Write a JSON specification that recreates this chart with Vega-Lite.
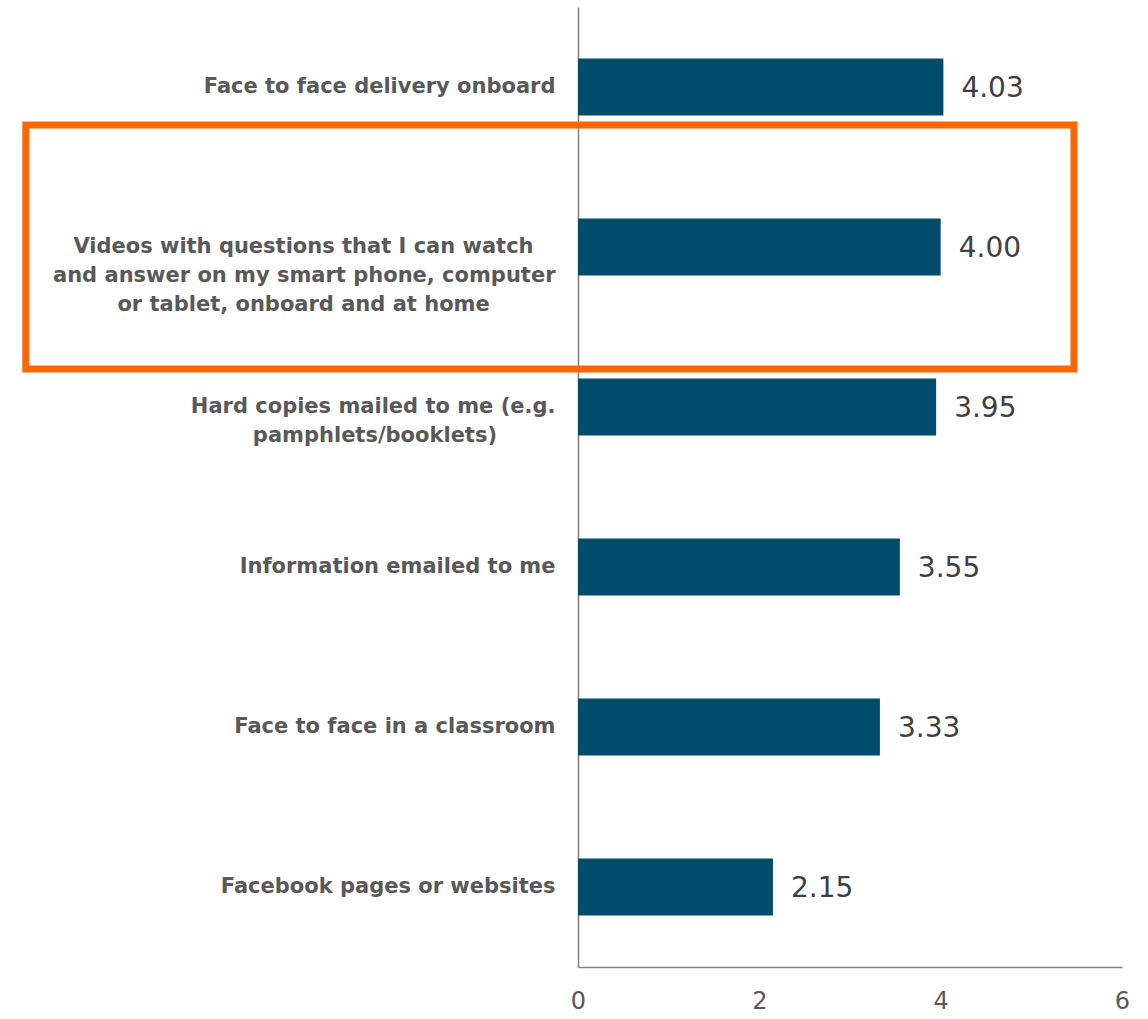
{
  "$schema": "https://vega.github.io/schema/vega-lite/v6.json",
  "width": 544,
  "height": 960,
  "autosize": {"type": "none"},
  "padding": {"left": 578, "top": 7, "right": 26, "bottom": 52},
  "background": "white",
  "config": {"view": {"stroke": null}},
  "datasets": {
    "bars": [
      {"label": "Face to face delivery onboard", "value": 4.03},
      {"label": "Videos with questions that I can watch and answer on my smart phone, computer or tablet, onboard and at home", "value": 4.00},
      {"label": "Hard copies mailed to me (e.g. pamphlets/booklets)", "value": 3.95},
      {"label": "Information emailed to me", "value": 3.55},
      {"label": "Face to face in a classroom", "value": 3.33},
      {"label": "Facebook pages or websites", "value": 2.15}
    ],
    "highlight": [
      {"label": "Videos with questions that I can watch and answer on my smart phone, computer or tablet, onboard and at home", "x1": -6.09, "x2": 5.47}
    ]
  },
  "encoding": {
    "y": {
      "field": "label",
      "type": "nominal",
      "sort": null,
      "scale": {"paddingInner": 0.644, "paddingOuter": 0.322},
      "axis": {
        "title": null,
        "ticks": false,
        "domainColor": "#808080",
        "domainWidth": 1.5,
        "labelPadding": 23,
        "labelFont": "DejaVu Sans",
        "labelFontWeight": "bold",
        "labelFontSize": 21,
        "labelColor": "#595959",
        "labelLimit": 600,
        "labelLineHeight": 29,
        "labelExpr": "indexof(datum.label, 'Videos') == 0 ? ['Videos with questions that I can watch\u00a0\u00a0\u00a0\u200b', 'and answer on my smart phone, computer', 'or tablet, onboard and at home\u00a0\u00a0\u00a0\u00a0\u00a0\u00a0\u00a0\u00a0\u00a0\u200b'] : indexof(datum.label, 'Hard copies') == 0 ? ['Hard copies mailed to me (e.g.', 'pamphlets/booklets)\u00a0\u00a0\u00a0\u00a0\u00a0\u00a0\u00a0\u00a0\u200b'] : datum.label"
      }
    }
  },
  "layer": [
    {
      "data": {"name": "bars"},
      "mark": {"type": "bar", "color": "#024C6B"},
      "encoding": {
        "x": {
          "field": "value",
          "type": "quantitative",
          "scale": {"domain": [0, 6], "nice": false},
          "axis": {
            "title": null,
            "ticks": false,
            "grid": false,
            "values": [0, 2, 4, 6],
            "format": "d",
            "domainColor": "#808080",
            "domainWidth": 1.5,
            "labelPadding": 22,
            "labelFont": "DejaVu Sans",
            "labelFontSize": 24,
            "labelColor": "#595959",
            "labelFlush": false
          }
        }
      }
    },
    {
      "data": {"name": "bars"},
      "mark": {"type": "text", "align": "left", "baseline": "middle", "dx": 18, "dy": 2, "fontSize": 28, "font": "DejaVu Sans", "color": "#404040"},
      "encoding": {
        "x": {"field": "value", "type": "quantitative"},
        "text": {"field": "value", "type": "quantitative", "format": ".2f"}
      }
    },
    {
      "data": {"name": "highlight"},
      "mark": {"type": "rect", "fill": null, "fillOpacity": 0, "stroke": "#FF6600", "strokeWidth": 7, "clip": false, "height": {"band": 4.28}},
      "encoding": {
        "x": {"field": "x1", "type": "quantitative"},
        "x2": {"field": "x2"}
      }
    }
  ]
}
